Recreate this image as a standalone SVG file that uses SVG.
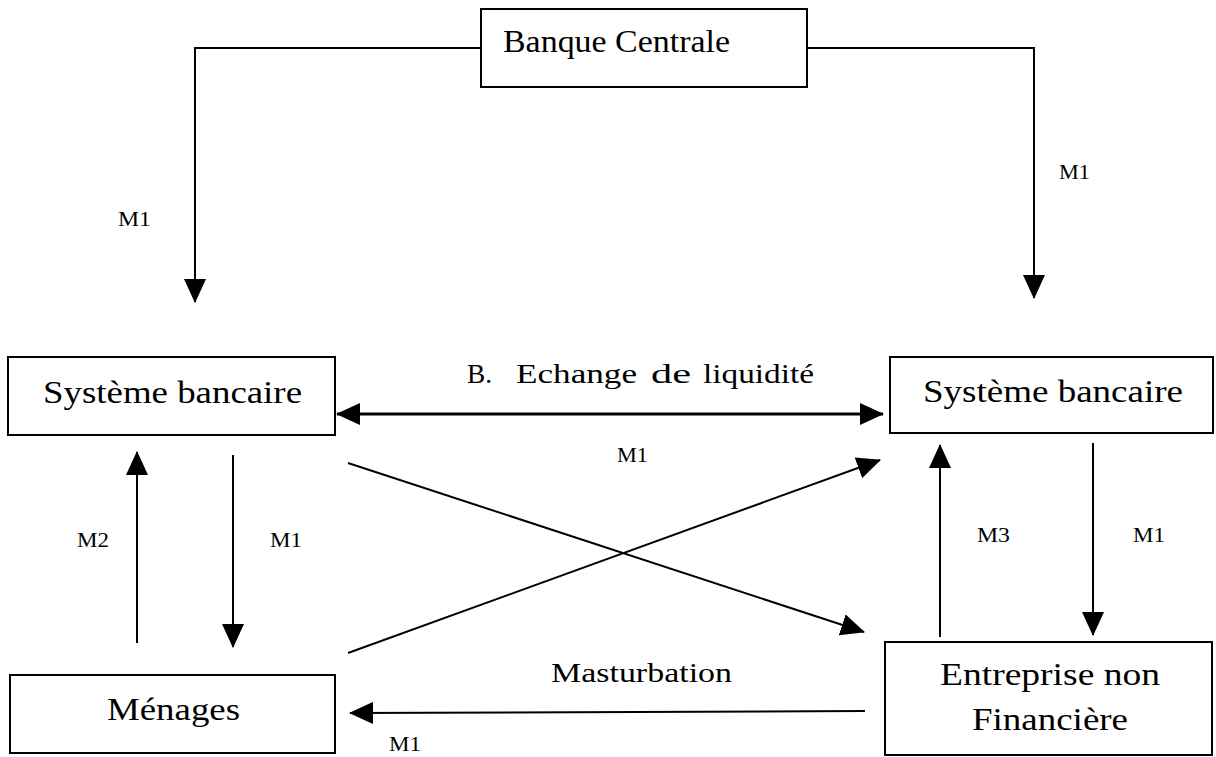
<svg xmlns="http://www.w3.org/2000/svg" width="1216" height="757" viewBox="0 0 1216 757">
<style>
  .box { fill: #ffffff; stroke: #000000; stroke-width: 2; }
  .big { font-family: "Liberation Serif", "Times New Roman", serif; font-size: 31px; fill: #000000; }
  .mid { font-family: "Liberation Serif", "Times New Roman", serif; font-size: 28px; fill: #000000; }
  .lbl { font-family: "Liberation Serif", "Times New Roman", serif; font-size: 20px; fill: #000000; }
  .conn { fill: none; stroke: #000000; stroke-width: 2; }
  .thick { stroke-width: 3; }
</style>
<defs>
  <marker id="ah" viewBox="0 0 24 22" refX="23" refY="11" markerWidth="24" markerHeight="22" markerUnits="userSpaceOnUse" orient="auto-start-reverse">
    <path d="M0,0 L24,11 L0,22 z" fill="#000000"/>
  </marker>
</defs>
<rect width="1216" height="757" fill="#ffffff"/>

<g id="connectors">
  <polyline class="conn" points="481,48 195,48 195,302" marker-end="url(#ah)"/>
  <polyline class="conn" points="807,48 1034,48 1034,298" marker-end="url(#ah)"/>
  <line class="conn thick" x1="337" y1="414" x2="883" y2="414" marker-start="url(#ah)" marker-end="url(#ah)"/>
  <line class="conn" x1="137" y1="643" x2="137" y2="452" marker-end="url(#ah)"/>
  <line class="conn" x1="233" y1="455" x2="233" y2="647" marker-end="url(#ah)"/>
  <line class="conn" x1="940" y1="637" x2="940" y2="445" marker-end="url(#ah)"/>
  <line class="conn" x1="1093" y1="443" x2="1093" y2="635" marker-end="url(#ah)"/>
  <line class="conn" x1="348" y1="463" x2="864" y2="632" marker-end="url(#ah)"/>
  <line class="conn" x1="348" y1="653" x2="880" y2="460" marker-end="url(#ah)"/>
  <line class="conn" x1="865" y1="711" x2="350" y2="713" marker-end="url(#ah)"/>
</g>

<g id="labels">
  <text class="lbl" x="118" y="226" textLength="33" lengthAdjust="spacingAndGlyphs">M1</text>
  <text class="lbl" x="1059" y="179" textLength="31" lengthAdjust="spacingAndGlyphs">M1</text>
  <text class="lbl" x="77" y="547" textLength="32" lengthAdjust="spacingAndGlyphs">M2</text>
  <text class="lbl" x="270" y="547" textLength="32" lengthAdjust="spacingAndGlyphs">M1</text>
  <text class="lbl" x="617" y="462" textLength="31" lengthAdjust="spacingAndGlyphs">M1</text>
  <text class="lbl" x="977" y="542" textLength="33" lengthAdjust="spacingAndGlyphs">M3</text>
  <text class="lbl" x="1133" y="542" textLength="32" lengthAdjust="spacingAndGlyphs">M1</text>
  <text class="lbl" x="389" y="751" textLength="32" lengthAdjust="spacingAndGlyphs">M1</text>
  <text class="mid" y="383"><tspan x="467" textLength="25" lengthAdjust="spacingAndGlyphs">B.</tspan><tspan x="516" textLength="121" lengthAdjust="spacingAndGlyphs">Echange</tspan><tspan x="651" textLength="40" lengthAdjust="spacingAndGlyphs">de</tspan><tspan x="703" textLength="111" lengthAdjust="spacingAndGlyphs">liquidité</tspan></text>
  <text class="mid" x="551" y="682" textLength="181" lengthAdjust="spacingAndGlyphs">Masturbation</text>
</g>

<g id="banque-centrale">
  <rect class="box" x="481" y="9" width="326" height="78"/>
  <text class="big" x="503" y="52" textLength="227" lengthAdjust="spacingAndGlyphs">Banque Centrale</text>
</g>

<g id="systeme-bancaire-gauche">
  <rect class="box" x="8" y="357" width="327" height="78"/>
  <text class="big" x="43" y="403" textLength="259" lengthAdjust="spacingAndGlyphs">Système bancaire</text>
</g>

<g id="systeme-bancaire-droite">
  <rect class="box" x="890" y="357" width="323" height="76"/>
  <text class="big" x="923" y="402" textLength="260" lengthAdjust="spacingAndGlyphs">Système bancaire</text>
</g>

<g id="menages">
  <rect class="box" x="10" y="675" width="325" height="78"/>
  <text class="big" x="107" y="720" textLength="133" lengthAdjust="spacingAndGlyphs">Ménages</text>
</g>

<g id="entreprise">
  <rect class="box" x="885" y="642" width="327" height="113"/>
  <text class="big" x="940" y="685" textLength="220" lengthAdjust="spacingAndGlyphs">Entreprise non</text>
  <text class="big" x="972" y="730" textLength="156" lengthAdjust="spacingAndGlyphs">Financière</text>
</g>
</svg>
